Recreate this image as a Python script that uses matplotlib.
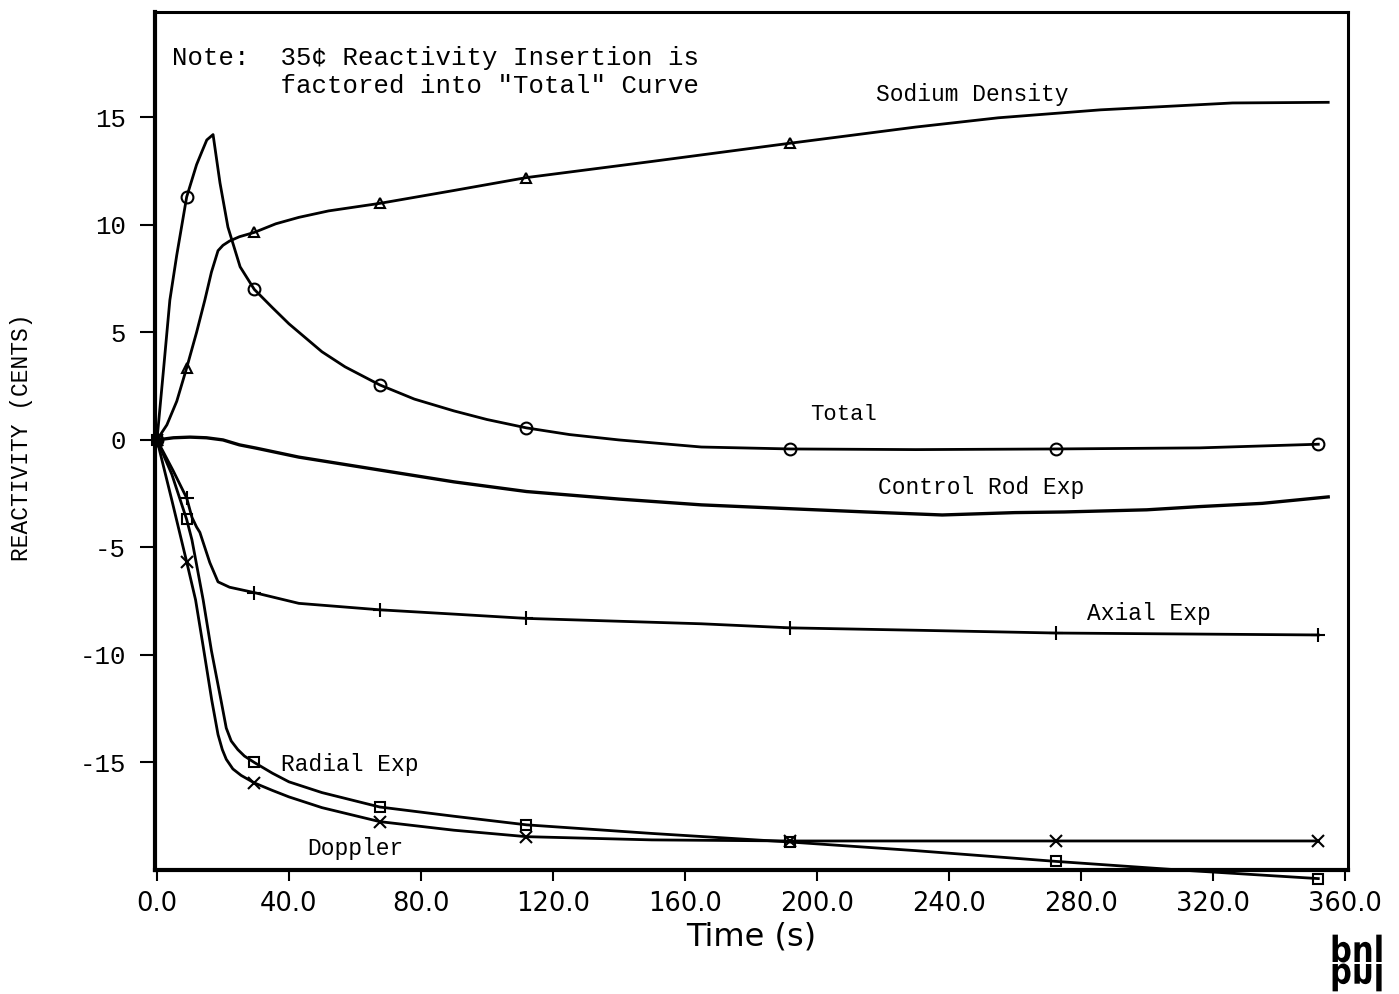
import numpy as np
import matplotlib
matplotlib.use("Agg")
import matplotlib.pyplot as plt
from matplotlib.textpath import TextPath
from matplotlib.patches import PathPatch
from matplotlib.font_manager import FontProperties
from matplotlib.transforms import Affine2D, ScaledTranslation

plt.rcParams["axes.unicode_minus"] = False

# ---- data (time in s, reactivity in cents) ----
total_t = [0, 2, 3.9, 6, 9, 12, 13.6, 15.1, 17, 19.1, 21.5, 25.2, 29.5, 35, 40, 45,
           50, 57, 67.5, 78, 90, 100, 112, 125, 140, 165, 192, 230, 272.5, 316, 352]
total_v = [0, 3.3, 6.5, 8.6, 11.3, 12.8, 13.4, 13.95, 14.2, 11.95, 9.9, 8.05, 7.0,
           6.15, 5.4, 4.75, 4.1, 3.4, 2.56, 1.9, 1.35, 0.95, 0.56, 0.25, 0.0, -0.33,
           -0.42, -0.45, -0.42, -0.37, -0.2]

sodium_t = [0, 3, 6, 9, 12, 14.5, 16.5, 18.5, 20, 22, 25, 29.5, 36, 43, 52, 67.5,
            90, 112, 150, 192, 230, 255, 286, 326, 355]
sodium_v = [0, 0.7, 1.8, 3.35, 5.0, 6.5, 7.8, 8.8, 9.05, 9.25, 9.45, 9.65, 10.05,
            10.35, 10.65, 11.0, 11.6, 12.2, 12.95, 13.8, 14.55, 14.98, 15.35, 15.67, 15.7]

rod_t = [0, 5, 10, 15, 20, 25, 30, 43, 67.5, 90, 112, 140, 165, 192, 215, 238,
         260, 275, 300, 316, 335, 355]
rod_v = [0, 0.1, 0.13, 0.1, 0.0, -0.23, -0.38, -0.8, -1.4, -1.95, -2.4, -2.75,
         -3.02, -3.2, -3.35, -3.49, -3.38, -3.35, -3.25, -3.1, -2.95, -2.65]

axial_t = [0, 4.8, 9, 10.6, 12, 13, 16, 18.5, 22, 29.5, 43, 67.5, 90, 112, 165,
           192, 230, 272.5, 352]
axial_v = [0, -1.4, -2.7, -3.6, -4.05, -4.3, -5.7, -6.6, -6.85, -7.1, -7.6, -7.9,
           -8.1, -8.3, -8.55, -8.74, -8.85, -8.98, -9.07]

radial_t = [0, 4.5, 9, 10.6, 14, 16.5, 19.4, 21, 22.5, 24.5, 26.5, 29.5, 35, 40,
            50, 67.5, 90, 112, 150, 192, 230, 272.5, 310, 352]
radial_v = [0, -1.6, -3.7, -4.65, -7.44, -9.8, -12.1, -13.4, -14.0, -14.4, -14.7,
            -15.0, -15.5, -15.9, -16.4, -17.07, -17.5, -17.9, -18.3, -18.7, -19.1,
            -19.6, -20.0, -20.4]

doppler_t = [0, 4.5, 9, 11.7, 14, 16.6, 18.5, 19.8, 21, 23, 25.5, 29.5, 35, 40, 50,
             67.5, 90, 112, 150, 192, 272.5, 352]
doppler_v = [0, -2.8, -5.67, -7.44, -9.6, -12.1, -13.7, -14.4, -14.85, -15.3, -15.6,
             -15.95, -16.3, -16.6, -17.1, -17.75, -18.15, -18.45, -18.6, -18.65,
             -18.65, -18.65]

mark_t = [0, 9, 29.5, 67.5, 112, 192, 272.5, 352]
sodium_mark_t = [0, 9, 29.5, 67.5, 112, 192]

x_ticks = [0, 40, 80, 120, 160, 200, 240, 280, 320, 360]
y_ticks = [-15, -10, -5, 0, 5, 10, 15]

# ---- figure ----
W, H = 1399, 994
fig = plt.figure(figsize=(W / 100, H / 100), dpi=100)
ax = fig.add_axes([155 / W, (H - 870) / H, (1348 - 155) / W, (870 - 12) / H])

line_kw = dict(color="black", lw=2.0, mfc="none", mec="black", mew=1.5)


def draw(t, v, marker, mt, ms=7, **kw):
    idx = list(np.nonzero(np.isin(t, mt))[0])
    ax.plot(t, v, marker=marker, markevery=idx, ms=ms, **line_kw, **kw)


draw(total_t, total_v, "o", mark_t, ms=8.5)
draw(sodium_t, sodium_v, "^", sodium_mark_t, ms=7.5)
ax.plot(rod_t, rod_v, color="black", lw=2.4)
draw(axial_t, axial_v, "+", mark_t, ms=10)
draw(radial_t, radial_v, "s", mark_t, ms=7.5, clip_on=False)
draw(doppler_t, doppler_v, "x", mark_t, ms=8.5)

ax.set_xlim(-0.6, 361)
ax.set_ylim(-20, 19.9)

for s in ["left", "bottom"]:
    ax.spines[s].set_linewidth(3)
for s in ["top", "right"]:
    ax.spines[s].set_linewidth(2.2)

ax.set_xticks(x_ticks)
ax.set_xticklabels([f"{v:.1f}" for v in x_ticks], fontfamily="DejaVu Sans",
                   fontsize=18.5)
shift = ScaledTranslation(6 / 100, 0, fig.dpi_scale_trans)
for lab in ax.get_xticklabels():
    lab.set_transform(lab.get_transform() + shift)
ax.set_yticks(y_ticks)
ax.set_yticklabels([str(v) for v in y_ticks], fontfamily="Liberation Mono",
                   fontsize=18.5)
ax.tick_params(axis="x", direction="out", length=8, width=1.5, pad=7)
ax.tick_params(axis="y", direction="out", length=11, width=1.5, pad=10)

ax.set_xlabel("Time (s)", fontfamily="DejaVu Sans", fontsize=23)
ax.xaxis.set_label_coords((751 - 155) / 1193, (870 - 922) / 858)
ax.set_ylabel("REACTIVITY (CENTS)", fontfamily="Liberation Mono", fontsize=16.5)
ax.yaxis.set_label_coords((22 - 155) / 1193, (870 - 437) / 858)
ax.yaxis.label.set_va("center")

mono = dict(fontfamily="Liberation Mono", color="black", va="center", ha="left")
ax.text(4.5, 17.1, "Note:  35\u00a2 Reactivity Insertion is\n"
        "       factored into \"Total\" Curve", fontsize=18.5,
        linespacing=1.2, **mono)
ax.text(218, 16.05, "Sodium Density", fontsize=16.5, **mono)
ax.text(198, 1.2, "Total", fontsize=16, **mono)
ax.text(218.5, -2.23, "Control Rod Exp", fontsize=16.5, **mono)
ax.text(282, -8.05, "Axial Exp", fontsize=16.5, **mono)
ax.text(37.5, -15.1, "Radial Exp", fontsize=16.5, **mono)
ax.text(45.5, -19.0, "Doppler", fontsize=16.5, **mono)

# ---- bnl logo (with mirrored lower half) ----
fp = FontProperties(family="DejaVu Sans", weight="bold")
logo = TextPath((0, 0), "bnl", size=1, prop=fp)
sz = 0.36
x0, base = 13.30, (H - 962) / 100
fig.add_artist(PathPatch(logo, color="black", lw=0,
                         transform=Affine2D().scale(sz * 0.85, sz).translate(x0, base)
                         + fig.dpi_scale_trans))
fig.add_artist(PathPatch(logo, color="black", lw=0,
                         transform=Affine2D().scale(sz * 0.85, -sz).translate(x0, base - 0.02)
                         + fig.dpi_scale_trans))

fig.savefig("out.png", dpi=100, facecolor="white")
